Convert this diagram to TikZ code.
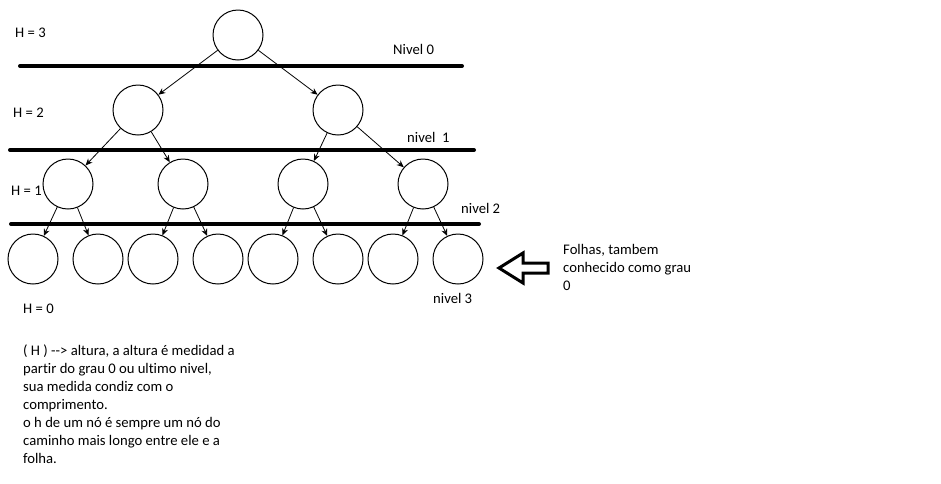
\documentclass[tikz,border=0pt]{standalone}
\usepackage{fontspec}
\setmainfont{Carlito}[Ligatures={NoCommon}]
\usetikzlibrary{arrows.meta}

\begin{document}
\begin{tikzpicture}[
  x=1pt, y=-1pt,
  every node/.style={font=\fontsize{14.67}{18}\selectfont, text=black},
  no/.style={circle, draw, line width=1pt, minimum size=50pt, inner sep=0pt},
  rotulo/.style={anchor=base west, inner sep=0pt},
  nivel/.style={line width=4pt, line cap=round},
  seta/.style={->, line width=0.8pt},
  >={Stealth[length=7pt,width=6pt]},
]
\useasboundingbox (0,0) rectangle (941,483);
%-------------------------------------------------------------
\newcommand{\corLinha}{black}

% raiz
\node[no] (R) at (238,35) {};
%============================================================
\node[no] (A1) at (138,110) {};
\node[no] (A2) at (338,110) {};
%============================================================
\node[no] (B1) at (68,184) {};
\node[no] (B2) at (183,184) {};
\node[no] (B3) at (303,184) {};
\node[no] (B4) at (423,184) {};
%============================================================
\node[no] (C1) at (33,259) {};
\node[no] (C2) at (98,259) {};
\node[no] (C3) at (153,259) {};
\node[no] (C4) at (218,259) {};
\node[no] (C5) at (273,259) {};
\node[no] (C6) at (338,259) {};
\node[no] (C7) at (393,259) {};
\node[no] (C8) at (458,259) {};
%============================================================

% linhas dos niveis
\coordinate (N0a) at (20,66);  \coordinate (N0b) at (462,66);
\coordinate (N1a) at (10,150); \coordinate (N1b) at (474,150);
\coordinate (N2a) at (11,224); \coordinate (N2b) at (479,224);
\draw[nivel, \corLinha] (N0a) -- (N0b);
\draw[nivel, \corLinha] (N1a) -- (N1b);
\draw[nivel, \corLinha] (N2a) -- (N2b);

\draw[seta] (R) edge (A1) edge (A2);
\draw[seta] (A1) edge (B1) edge (B2);
\draw[seta] (A2) edge (B3) edge (B4);
\draw[seta] (B1) edge (C1) edge (C2);
\draw[seta] (B2) edge (C3) edge (C4);
\draw[seta] (B3) edge (C5) edge (C6);
\draw[seta] (B4) edge (C7) edge (C8);

% alturas e niveis
\node[rotulo] (H3) at (15,37) {H = 3};
\node[rotulo] (H2) at (13,117) {H = 2};
\node[rotulo] (H1) at (11,195) {H = 1};
\node[rotulo] (H0) at (23,313) {H = 0};
\node[rotulo] (L0) at (393,54) {Nivel 0};
\node[rotulo] (L1) at (407,142) {nivel\ \ 1};
\node[rotulo] (L2) at (461,213) {nivel 2};
\node[rotulo] (L3) at (433,303) {nivel 3};

% seta grossa das folhas
\draw[line width=3pt, line join=miter] (499,268) -- (523,253) -- (523,263) -- (548,263)
  -- (548,273) -- (523,273) -- (523,283) -- cycle;

\node[anchor=north west, inner sep=0pt, align=left] (F) at (563,244)
  {Folhas, tambem\\conhecido como grau\\0};

\node[anchor=north west, inner sep=0pt, align=left] (T) at (23,345)
  {( H ) \mbox{-}\mbox{-}\mbox{>} altura, a altura é medidad a\\
   partir do grau 0 ou ultimo nivel,\\
   sua medida condiz com o\\
   comprimento.\\
   o h de um nó é sempre um nó do\\
   caminho mais longo entre ele e a\\
   folha.};

\end{tikzpicture}
\end{document}
